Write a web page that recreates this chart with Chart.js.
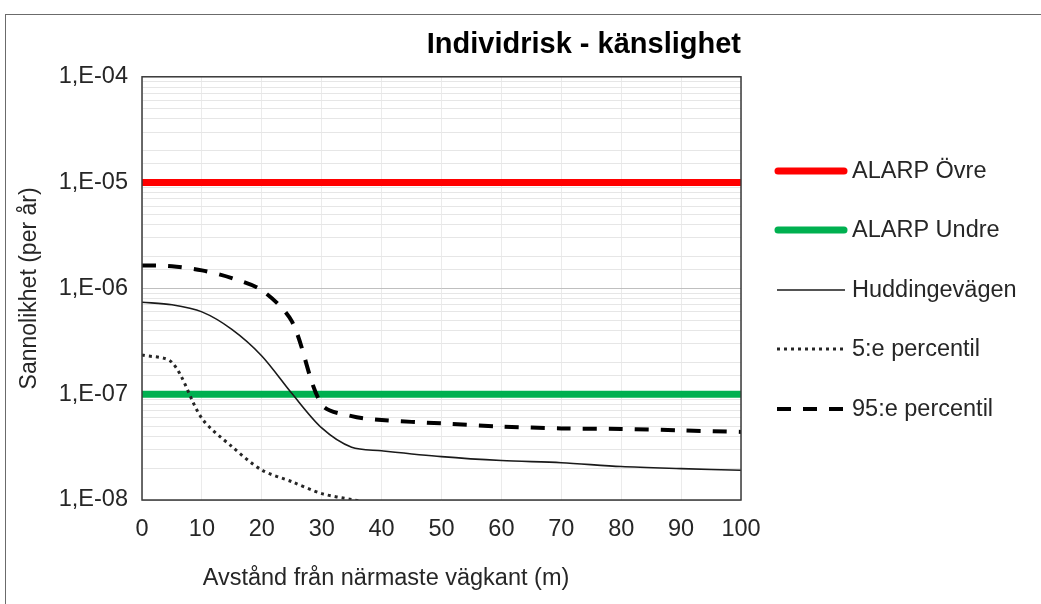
<!DOCTYPE html>
<html>
<head>
<meta charset="utf-8">
<script src="https://cdn.jsdelivr.net/npm/chart.js@4.4.1/dist/chart.umd.min.js"></script>
<style>
html,body{margin:0;padding:0;background:#fff;overflow:hidden;width:1041px;height:604px}
#frame{position:absolute;left:5px;top:14px;width:1200px;height:800px;border-left:1.5px solid #6b6b6b;border-top:1.5px solid #6b6b6b;box-sizing:border-box}
#wrap{position:absolute;left:0;top:0;width:1041px;height:604px}
</style>
</head>
<body>
<div id="frame"></div>
<div id="wrap"><canvas id="c" width="1041" height="604"></canvas></div>
<script>
// ---- data ----
const titleText = 'Individrisk - känslighet';
const xTitle = 'Avstånd från närmaste vägkant (m)';
const yTitle = 'Sannolikhet (per år)';

const xRange = [0, 100];
const alarpUpper = 1e-5;
const alarpLower = 1e-7;

const hudDist = [0, 5, 10, 15, 20, 25, 30, 35, 40, 50, 60, 70, 80, 90, 100];
const hudRisk = [7.4e-7, 7.0e-7, 6.0e-7, 4.1e-7, 2.3e-7, 1.02e-7, 4.8e-8, 3.15e-8, 2.92e-8, 2.57e-8, 2.36e-8, 2.25e-8, 2.07e-8, 1.98e-8, 1.91e-8];

const p5Dist = [0, 5, 10, 15, 20, 25, 30, 35, 40];
const p5Risk = [2.35e-7, 2.0e-7, 5.9e-8, 3.2e-8, 1.92e-8, 1.49e-8, 1.15e-8, 1.01e-8, 9.0e-9];

const p95Dist = [0, 5, 10, 15, 20, 25, 30, 35, 40, 50, 60, 70, 80, 90, 100];
const p95Risk = [1.65e-6, 1.62e-6, 1.48e-6, 1.25e-6, 9.6e-7, 4.9e-7, 8.0e-8, 6.2e-8, 5.7e-8, 5.3e-8, 4.95e-8, 4.75e-8, 4.7e-8, 4.55e-8, 4.4e-8];

const seriesLabels = ['ALARP Övre', 'ALARP Undre', 'Huddingevägen', '5:e percentil', '95:e percentil'];

// ---- build ----
const pts = (xs, ys) => xs.map((x, i) => ({x, y: ys[i]}));
const flat = (v) => xRange.map(x => ({x, y: v}));
const isDecade = (v) => { const e = Math.round(Math.log10(v)); return Math.abs(v / Math.pow(10, e) - 1) < 1e-6; };

const FONT = '"Liberation Sans", Arial, sans-serif';
Chart.defaults.font.family = FONT;
Chart.defaults.color = '#262626';

const legendRows = [171, 230, 290, 349, 409];
const sideLegend = {
  id: 'sideLegend',
  afterDraw(chart) {
    const ctx = chart.ctx;
    chart.data.datasets.forEach((ds, i) => {
      const y = legendRows[i];
      ctx.save();
      ctx.strokeStyle = ds.borderColor;
      ctx.lineWidth = ds.borderWidth;
      ctx.setLineDash(ds.borderDash || []);
      ctx.lineCap = ds.borderWidth > 5 ? 'round' : 'butt';
      ctx.beginPath();
      const x0 = ds.borderWidth > 5 ? 778 : 777;
      const x1 = ds.borderWidth > 5 ? 844 : 845;
      ctx.moveTo(x0, y);
      ctx.lineTo(x1, y);
      ctx.stroke();
      ctx.setLineDash([]);
      ctx.fillStyle = '#262626';
      ctx.font = '23.5px ' + FONT;
      ctx.textBaseline = 'middle';
      ctx.textAlign = 'left';
      ctx.fillText(ds.label, 852, y + 1);
      ctx.restore();
    });
  }
};
const plotFrame = {
  id: 'plotFrame',
  afterDatasetsDraw(chart) {
    const a = chart.chartArea, ctx = chart.ctx;
    ctx.save();
    ctx.strokeStyle = '#3a3a3a';
    ctx.lineWidth = 1.5;
    ctx.strokeRect(a.left, a.top, a.right - a.left, a.bottom - a.top);
    ctx.restore();
  }
};
// x-axis title sits left of the plot centre in the reference
const xAxisTitle = {
  id: 'xAxisTitle',
  afterDraw(chart) {
    const ctx = chart.ctx, a = chart.chartArea;
    ctx.save();
    ctx.fillStyle = '#262626';
    ctx.font = '23.5px ' + FONT;
    ctx.textAlign = 'center';
    ctx.textBaseline = 'middle';
    ctx.fillText(xTitle, a.left + 244, 579);
    ctx.restore();
  }
};

new Chart(document.getElementById('c'), {
  type: 'line',
  data: {
    datasets: [
      {label: seriesLabels[0], data: flat(alarpUpper), borderColor: '#ff0000', borderWidth: 7, order: 5, tension: 0},
      {label: seriesLabels[1], data: flat(alarpLower), borderColor: '#00b050', borderWidth: 7, order: 5, tension: 0},
      {label: seriesLabels[2], data: pts(hudDist, hudRisk), borderColor: '#1a1a1a', borderWidth: 1.6, tension: 0.3, order: 1},
      {label: seriesLabels[3], data: pts(p5Dist, p5Risk), borderColor: '#262626', borderWidth: 3, borderDash: [3, 4], tension: 0.3, order: 1},
      {label: seriesLabels[4], data: pts(p95Dist, p95Risk), borderColor: '#000000', borderWidth: 4, borderDash: [14, 12], tension: 0.3, order: 1}
    ]
  },
  options: {
    responsive: false,
    animation: false,
    devicePixelRatio: 1,
    layout: {padding: {left: 0, right: 300, top: 0, bottom: 0}},
    elements: {point: {radius: 0, hoverRadius: 0}, line: {fill: false}},
    plugins: {
      legend: {display: false},
      tooltip: {enabled: false},
      title: {
        display: true, text: titleText, align: 'end', color: '#000',
        font: {size: 29, weight: 'bold'}, padding: {top: 28, bottom: 14}
      }
    },
    scales: {
      x: {
        type: 'linear', min: xRange[0], max: xRange[1],
        afterFit(s) { s.height = 104; },
        border: {display: false},
        grid: {color: '#ebebeb', lineWidth: 1, drawTicks: false},
        ticks: {stepSize: 10, padding: 15, font: {size: 23.5}, maxRotation: 0, autoSkip: false},
        title: {display: false, text: xTitle}
      },
      y: {
        type: 'logarithmic', min: 1e-8, max: 1e-4,
        afterFit(s) { s.width = 142; },
        border: {display: false},
        grid: {color: (c) => (c.tick && isDecade(c.tick.value)) ? '#bfbfbf' : '#e6e6e6', lineWidth: 1, drawTicks: false},
        ticks: {
          autoSkip: false, padding: 14, font: {size: 23.5},
          callback: (v) => isDecade(v) ? '1,E-' + String(-Math.round(Math.log10(v))).padStart(2, '0') : ''
        },
        title: {display: true, text: yTitle, font: {size: 23}, padding: {top: 16, bottom: 0}}
      }
    }
  },
  plugins: [sideLegend, plotFrame, xAxisTitle]
});
</script>
</body>
</html>
